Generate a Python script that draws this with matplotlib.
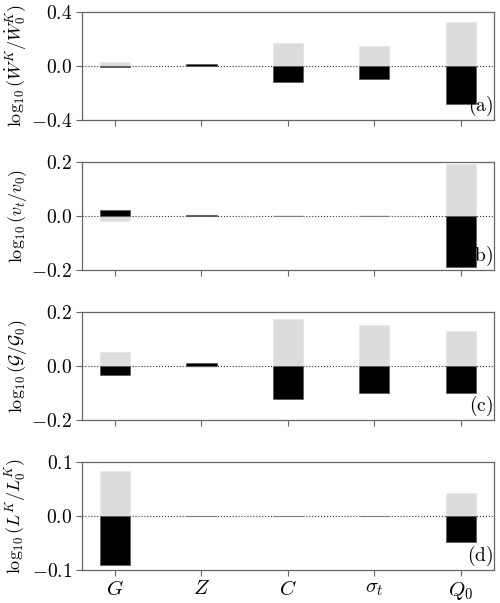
import matplotlib
matplotlib.use("Agg")
import matplotlib.pyplot as plt
import numpy as np

plt.rcParams['mathtext.fontset'] = 'cm'
plt.rcParams['font.family'] = 'serif'
plt.rcParams['font.serif'] = ['cmr10', 'DejaVu Serif']
plt.rcParams['axes.formatter.use_mathtext'] = True

categories = [r'$G$', r'$Z$', r'$C$', r'$\sigma_t$', r'$Q_0$']

# grey series (one direction of variation), black series (the other)
grey_a = [0.030, 0.008, 0.171, 0.149, 0.321]
black_a = [-0.008, 0.012, -0.122, -0.099, -0.284]

grey_b = [-0.020, 0.001, 0.002, 0.002, 0.191]
black_b = [0.021, 0.003, -0.001, -0.001, -0.188]

grey_c = [0.051, -0.003, 0.173, 0.151, 0.130]
black_c = [-0.035, 0.0105, -0.124, -0.102, -0.101]

grey_d = [0.083, 0.0003, 0.0005, 0.0003, 0.0416]
black_d = [-0.091, -0.0003, -0.001, -0.0005, -0.048]

ylabels = [r'$\log_{10}(\dot{W}^K/\dot{W}_0^K)$',
           r'$\log_{10}(v_t/v_0)$',
           r'$\log_{10}(\mathcal{G}/\mathcal{G}_0)$',
           r'$\log_{10}(L^K/L_0^K)$']
yticks = [[-0.4, 0.0, 0.4], [-0.2, 0.0, 0.2], [-0.2, 0.0, 0.2], [-0.1, 0.0, 0.1]]
panel_tags = ['(a)', '(b)', '(c)', '(d)']

greys = [grey_a, grey_b, grey_c, grey_d]
blacks = [black_a, black_b, black_c, black_d]

fig = plt.figure(figsize=(5.0, 6.03), dpi=100)
W, H = 500.0, 603.0
left_px, right_px = 81.7, 494.0
tops = [11.7, 161.7, 311.7, 461.7]
hpx = 108.3

x = np.arange(len(categories))
spine_col = '#666666'
for i in range(4):
    ax = fig.add_axes([left_px / W, 1 - (tops[i] + hpx) / H,
                       (right_px - left_px) / W, hpx / H])
    ax.bar(x, greys[i], width=0.35, color='#dcdcdc', edgecolor='#e6e6e6',
           linewidth=0.5, zorder=2)
    ax.bar(x, blacks[i], width=0.35, color='black', edgecolor='#555555',
           linewidth=0.5, zorder=3)
    ax.axhline(0, color='#333333', linestyle=':', linewidth=0.8, zorder=1)
    ax.set_xlim(-0.385, 4.385)
    lim = yticks[i][-1]
    ax.set_ylim(-lim, lim)
    ax.set_yticks(yticks[i])
    ax.set_yticklabels([r'$%.1f$' % v for v in yticks[i]], fontsize=14)
    ax.set_xticks(x)
    if i == 3:
        ax.set_xticklabels(categories, fontsize=15)
    else:
        ax.set_xticklabels([])
    ax.tick_params(direction='out', length=4, width=0.8, color=spine_col,
                   top=False, right=False, pad=3)
    for s in ax.spines.values():
        s.set_color(spine_col)
        s.set_linewidth(0.9)
    ax.set_ylabel(ylabels[i], fontsize=13)
    ax.yaxis.set_label_coords(-0.128, 0.5)
    ax.text(0.997, 0.02, r'$\mathrm{%s}$' % panel_tags[i], transform=ax.transAxes,
            ha='right', va='bottom', fontsize=14)

fig.savefig('out.png', dpi=100)
